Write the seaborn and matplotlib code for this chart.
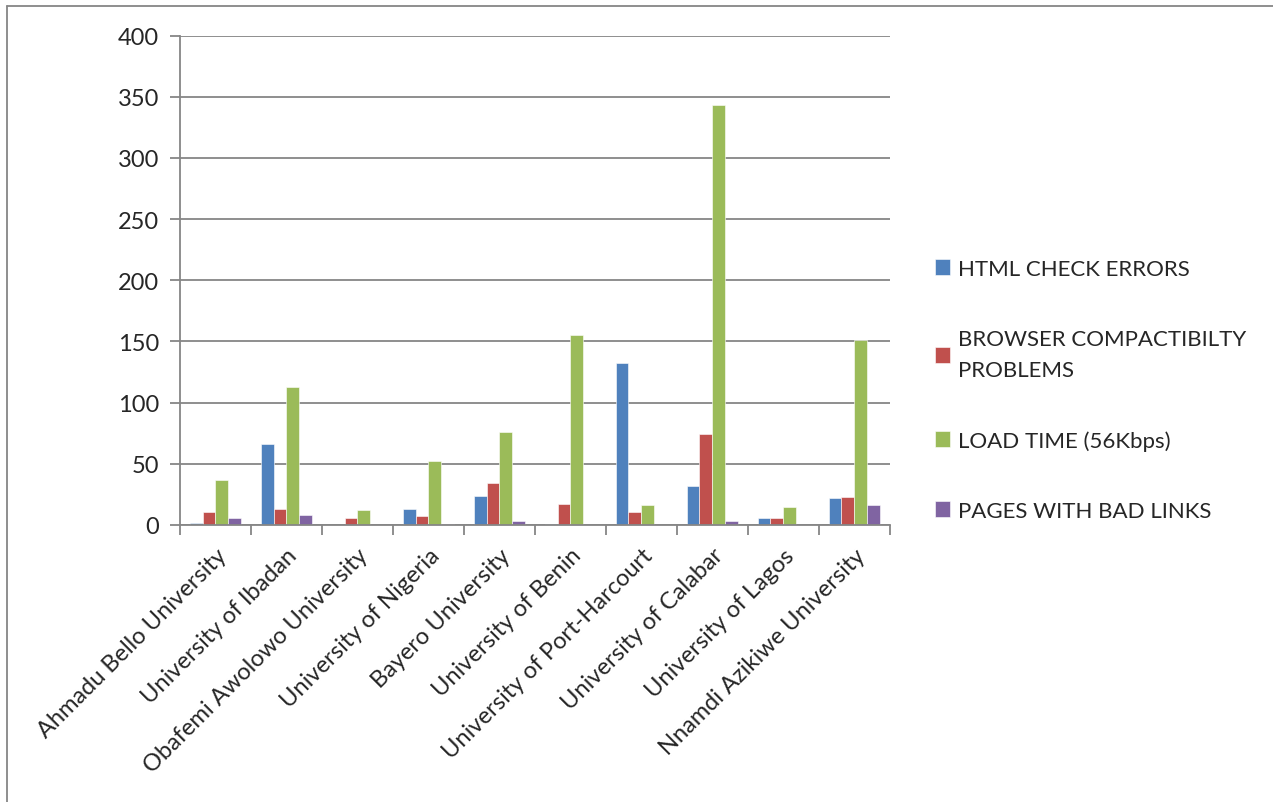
import numpy as np
import pandas as pd
import seaborn as sns
import matplotlib.pyplot as plt
from matplotlib.lines import Line2D

# Values
universities = ['Ahmadu Bello University', 'University of Ibadan', 'Obafemi Awolowo University',
                'University of Nigeria', 'Bayero University', 'University of Benin',
                'University of Port-Harcourt', 'University of Calabar', 'University of Lagos',
                'Nnamdi Azikiwe University']
html_errors = [2, 66, 0, 13, 24, 1, 132, 32, 6, 22]
browser_problems = [11, 13, 6, 7, 34, 17, 11, 74, 6, 23]
load_time = [37, 113, 12, 52, 76, 155, 16, 343, 15, 151]
bad_links = [6, 8, 0, 1, 3, 0, 0, 3, 0, 16]
series_names = ['HTML CHECK ERRORS', 'BROWSER COMPACTIBILTY\nPROBLEMS',
                'LOAD TIME (56Kbps)', 'PAGES WITH BAD LINKS']
colors = ['#4F81BD', '#C0504D', '#9BBB59', '#8064A2']
yticks = [0, 50, 100, 150, 200, 250, 300, 350, 400]

df = pd.DataFrame({'University': universities,
                   series_names[0]: html_errors,
                   series_names[1]: browser_problems,
                   series_names[2]: load_time,
                   series_names[3]: bad_links})
long_df = df.melt(id_vars='University', var_name='Metric', value_name='Value')

sns.set_style("white")
plt.rcParams['font.family'] = ['Lato', 'DejaVu Sans']
fs = 16
tick_fs = 17

fig = plt.figure(figsize=(12.73, 8.03), dpi=100)
ax = fig.add_axes([0.1414, 0.345, 0.5576, 0.6094])

sns.barplot(data=long_df, x='University', y='Value', hue='Metric', order=universities,
            hue_order=series_names, palette=colors, width=0.727, saturation=1,
            edgecolor='white', linewidth=0.4, ax=ax)

grid_c = '#868686'
ax.set_ylim(0, 400)
ax.set_xlim(-0.5, len(universities) - 0.5)
ax.set_yticks(yticks)
ax.yaxis.grid(True, color=grid_c, linewidth=1.3)
ax.set_axisbelow(True)
for s in ['top', 'right']:
    ax.spines[s].set_visible(False)
for s in ['left', 'bottom']:
    ax.spines[s].set_color(grid_c)
    ax.spines[s].set_linewidth(1.3)

ax.tick_params(axis='y', length=7, width=1.3, color=grid_c, labelsize=tick_fs, pad=8, left=True)
ax.set_xticks(np.arange(len(universities)))
ax.set_xticks(np.arange(-0.5, len(universities), 1), minor=True)
ax.tick_params(axis='x', which='major', length=0, labelsize=tick_fs, pad=14)
ax.tick_params(axis='x', which='minor', length=7, width=1.3, color=grid_c, bottom=True)
ax.set_xticklabels(universities, rotation=45, ha='right', rotation_mode='anchor')
ax.set_xlabel('')
ax.set_ylabel('')

handles, labels = ax.get_legend_handles_labels()
leg = ax.legend(handles, labels, loc='center left', bbox_to_anchor=(1.063, 0.276),
                frameon=False, fontsize=fs, borderaxespad=0, borderpad=0,
                handlelength=0.7, handleheight=0.7, handletextpad=0.35,
                labelspacing=2.25)
for t in leg.get_texts():
    t.set_linespacing(1.7)

# outer chart border (top and left visible)
fig.add_artist(Line2D([0.0055, 1.0], [0.991, 0.991], color=grid_c, linewidth=1.3))
fig.add_artist(Line2D([0.0055, 0.0055], [0.0, 0.991], color=grid_c, linewidth=1.3))

fig.savefig('out.png', dpi=100)
